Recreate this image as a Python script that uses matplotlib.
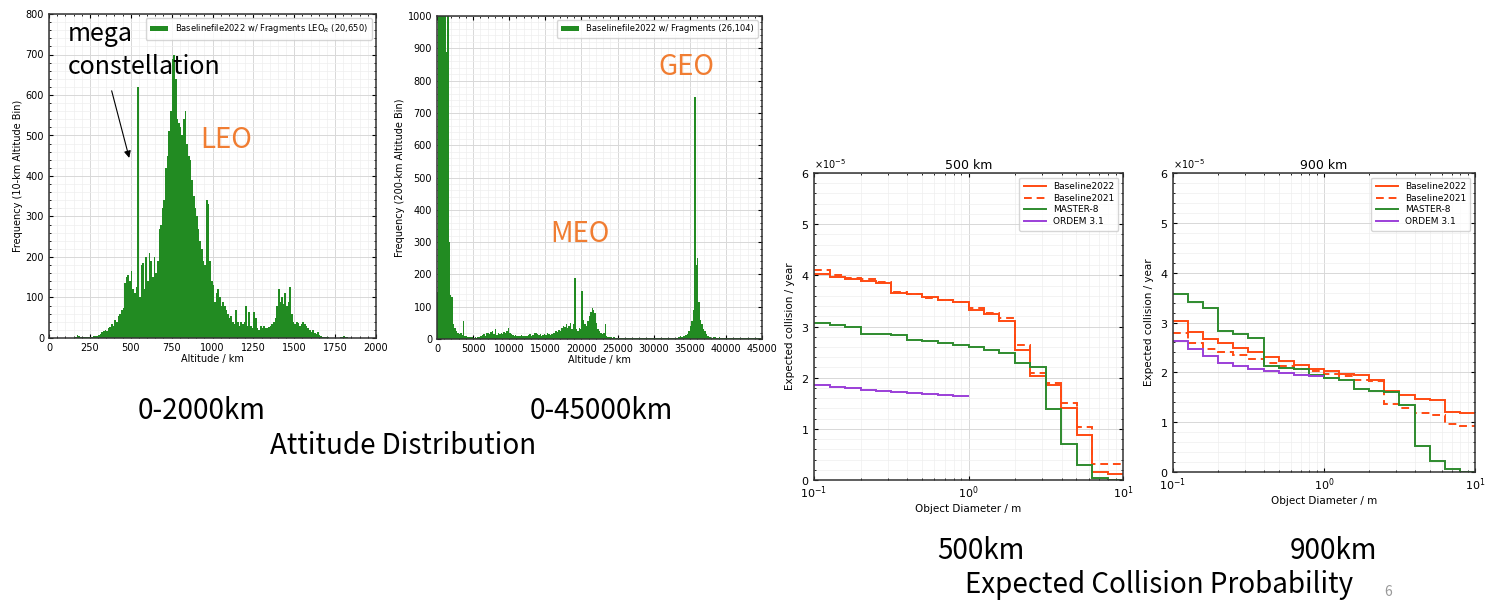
import numpy as np
import matplotlib.pyplot as plt
from matplotlib.ticker import MultipleLocator, AutoMinorLocator, ScalarFormatter

W, H = 1499, 601

# 10-km bins, 0 - 2000 km
leo_counts = [
    0, 0, 0, 0, 0, 0, 0, 0, 0, 0, 0, 0, 0, 0, 1, 2, 3, 8, 4, 2,
    1, 2, 2, 3, 2, 3, 3, 5, 6, 5, 8, 10, 14, 18, 20, 18, 25, 28, 35, 30,
    45, 40, 55, 60, 70, 75, 135, 150, 155, 140, 165, 120, 110, 125, 620, 100, 180, 185, 120, 200,
    140, 210, 190, 150, 200, 160, 190, 270, 280, 320, 340, 420, 450, 510, 560, 690, 700, 640, 540, 530,
    520, 500, 540, 560, 480, 450, 440, 390, 350, 320, 300, 270, 240, 220, 190, 180, 340, 330, 190, 140,
    130, 90, 110, 120, 100, 80, 90, 80, 70, 60, 50, 55, 40, 35, 70, 40, 30, 40, 35, 40,
    80, 30, 65, 30, 25, 65, 50, 25, 20, 30, 25, 30, 25, 25, 28, 30, 35, 40, 50, 80,
    120, 90, 100, 85, 110, 80, 90, 125, 60, 40, 35, 40, 38, 30, 35, 40, 35, 30, 25, 20,
    15, 20, 12, 10, 15, 8, 5, 3, 3, 2, 2, 1, 1, 1, 1, 1, 1, 1, 2, 3,
    4, 3, 2, 1, 1, 1, 0, 0, 0, 0, 0, 0, 0, 0, 0, 0, 0, 0, 0, 0,
]

# 200-km bins, 0 - 45000 km
all_counts = [
    145, 2200, 2800, 3400, 3000, 2500, 890, 1500, 300, 135,
    130, 45, 35, 25, 18, 15, 18, 12, 55, 10,
    8, 6, 5, 5, 6, 4, 5, 4, 6, 5,
    8, 12, 15, 10, 18, 20, 15, 22, 25, 15,
    30, 12, 18, 15, 20, 16, 22, 18, 25, 35,
    20, 15, 12, 10, 12, 10, 8, 10, 12, 8,
    10, 8, 10, 12, 15, 10, 12, 18, 20, 15,
    12, 14, 10, 12, 15, 12, 18, 16, 12, 15,
    20, 18, 25, 22, 28, 25, 35, 40, 38, 45,
    35, 40, 50, 30, 45, 190, 30, 25, 35, 30,
    150, 60, 45, 40, 55, 70, 85, 95, 90, 80,
    50, 30, 25, 20, 15, 20, 45, 10, 6, 5,
    5, 4, 5, 3, 3, 2, 2, 2, 2, 2,
    2, 2, 2, 2, 2, 2, 2, 2, 2, 2,
    2, 2, 2, 2, 2, 2, 2, 2, 2, 2,
    2, 2, 2, 2, 2, 2, 2, 2, 2, 2,
    2, 2, 3, 2, 3, 3, 4, 5, 8, 6,
    8, 10, 12, 15, 25, 40, 55, 90, 750, 230,
    250, 115, 60, 45, 30, 25, 15, 10, 6, 5,
    4, 5, 6, 4, 3, 5, 3, 2, 2, 3,
    2, 2, 2, 2, 2, 2, 2, 2, 2, 2,
    2, 2, 2, 2, 2, 2, 2, 2, 2, 2,
    2, 2, 2, 2, 2,
]

# object diameter bin edges / m
d_edges = [0.1, 0.126, 0.158, 0.2, 0.251, 0.316, 0.398, 0.501, 0.631, 0.794,
           1.0, 1.26, 1.58, 2.0, 2.51, 3.16, 3.98, 5.01, 6.31, 7.94, 10.0]
ordem_edges = [0.1, 0.126, 0.158, 0.2, 0.251, 0.316, 0.398, 0.501, 0.631, 0.794, 1.0]

SCALE = 1e-5
# 500 km
b22_500 = [4.03, 3.96, 3.92, 3.88, 3.85, 3.66, 3.63, 3.58, 3.51, 3.48,
           3.33, 3.24, 3.11, 2.54, 2.03, 1.85, 1.40, 0.87, 0.16, 0.12]
b21_500 = [4.11, 4.00, 3.94, 3.92, 3.87, 3.68, 3.63, 3.56, 3.51, 3.48,
           3.37, 3.27, 3.16, 2.63, 2.10, 1.90, 1.50, 1.03, 0.31, 0.31]
master_500 = [3.06, 3.03, 2.99, 2.86, 2.85, 2.83, 2.73, 2.72, 2.67, 2.63,
              2.60, 2.54, 2.49, 2.28, 2.21, 1.38, 0.70, 0.30, 0.03, 0.0]
ordem_500 = [1.85, 1.82, 1.79, 1.76, 1.74, 1.72, 1.71, 1.69, 1.67, 1.65]
# 900 km
b22_900 = [3.03, 2.80, 2.66, 2.59, 2.49, 2.41, 2.31, 2.22, 2.14, 2.07,
           2.03, 1.97, 1.94, 1.85, 1.63, 1.55, 1.47, 1.44, 1.20, 1.19]
b21_900 = [2.78, 2.58, 2.46, 2.41, 2.34, 2.27, 2.19, 2.13, 2.07, 2.03,
           1.96, 1.93, 1.84, 1.82, 1.36, 1.29, 1.19, 1.15, 0.96, 0.92]
master_900 = [3.58, 3.41, 3.29, 2.82, 2.76, 2.69, 2.12, 2.09, 2.07, 1.95,
              1.89, 1.84, 1.67, 1.63, 1.61, 1.34, 0.52, 0.22, 0.07, 0.01]
ordem_900 = [2.62, 2.46, 2.32, 2.19, 2.12, 2.06, 2.03, 1.99, 1.94, 1.92]

GREEN = '#228B22'
RED = '#FF4A12'
STEP_GREEN = '#2E8B2E'
PURPLE = '#9B3FD8'
ORANGE = '#F07D32'
SLIDE_FONT = ['Noto Sans CJK JP', 'DejaVu Sans']


def box(l, t, r, b):
    # pixel box -> figure fraction
    return [l / W, 1 - b / H, (r - l) / W, (b - t) / H]


def style(ax, fs):
    ax.tick_params(which='both', direction='in', top=True, right=True, labelsize=fs)
    ax.tick_params(which='major', length=3)
    ax.tick_params(which='minor', length=1.5)
    ax.grid(which='major', color='#d8d8d8', lw=0.7)
    ax.grid(which='minor', color='#eeeeee', lw=0.5)
    ax.set_axisbelow(True)
    for s in ax.spines.values():
        s.set_color('#333333')
        s.set_linewidth(1.1)


fig = plt.figure(figsize=(W / 100, H / 100), dpi=100)

# --- LEO histogram
ax1 = fig.add_axes(box(49, 14, 376, 338))
ax1.bar(np.arange(0, 2000, 10), leo_counts, width=10, align='edge', color=GREEN,
        linewidth=0, label='Baselinefile2022 w/ Fragments LEO$_R$ (20,650)')
ax1.set_xlim(0, 2000)
ax1.set_ylim(0, 800)
ax1.xaxis.set_major_locator(MultipleLocator(250))
ax1.yaxis.set_major_locator(MultipleLocator(100))
ax1.xaxis.set_minor_locator(AutoMinorLocator(5))
ax1.yaxis.set_minor_locator(AutoMinorLocator(5))
style(ax1, 7)
ax1.set_xlabel('Altitude / km', fontsize=7, labelpad=1)
ax1.set_ylabel('Frequency (10-km Altitude Bin)', fontsize=7, labelpad=2)
ax1.legend(loc='upper right', fontsize=6, handlelength=2.2, borderpad=0.5)
ax1.annotate('', xy=(495, 438), xytext=(379, 617),
             arrowprops=dict(arrowstyle='-|>', color='black', lw=0.8, mutation_scale=10))

# --- full altitude histogram
ax2 = fig.add_axes(box(437, 16, 762, 339))
ax2.bar(np.arange(0, 45000, 200), all_counts, width=200, align='edge', color=GREEN,
        linewidth=0, label='Baselinefile2022 w/ Fragments (26,104)')
ax2.set_xlim(0, 45000)
ax2.set_ylim(0, 1000)
ax2.xaxis.set_major_locator(MultipleLocator(5000))
ax2.yaxis.set_major_locator(MultipleLocator(100))
ax2.xaxis.set_minor_locator(AutoMinorLocator(5))
ax2.yaxis.set_minor_locator(AutoMinorLocator(5))
style(ax2, 7)
ax2.set_xlabel('Altitude / km', fontsize=7, labelpad=1)
ax2.set_ylabel('Frequency (200-km Altitude Bin)', fontsize=7, labelpad=2)
ax2.legend(loc='upper right', fontsize=6, handlelength=2.2, borderpad=0.5)


def collision_panel(rect, title, b22, b21, master, ordem):
    ax = fig.add_axes(box(*rect))
    ax.stairs(np.array(b22) * SCALE, d_edges, baseline=None, color=RED, lw=1.4,
              label='Baseline2022')
    ax.stairs(np.array(b21) * SCALE, d_edges, baseline=None, color=RED, lw=1.4,
              ls=(0, (4, 2.5)), label='Baseline2021')
    ax.stairs(np.array(master) * SCALE, d_edges, baseline=None, color=STEP_GREEN, lw=1.4,
              label='MASTER-8')
    ax.stairs(np.array(ordem) * SCALE, ordem_edges, baseline=None, color=PURPLE, lw=1.4,
              label='ORDEM 3.1')
    ax.set_xscale('log')
    ax.set_xlim(0.1, 10)
    ax.set_ylim(0, 6 * SCALE)
    ax.yaxis.set_major_locator(MultipleLocator(1 * SCALE))
    ax.yaxis.set_minor_locator(MultipleLocator(0.2 * SCALE))
    fmt = ScalarFormatter(useMathText=True)
    fmt.set_powerlimits((0, 0))
    ax.yaxis.set_major_formatter(fmt)
    ax.yaxis.get_offset_text().set_fontsize(7)
    style(ax, 8)
    ax.set_title(title, fontsize=9, pad=3)
    ax.set_xlabel('Object Diameter / m', fontsize=7.5, labelpad=2)
    ax.set_ylabel('Expected collision / year', fontsize=7.5, labelpad=4)
    ax.legend(loc='upper right', fontsize=6.5, handlelength=2.4, borderpad=0.5,
              labelspacing=0.3)
    return ax


collision_panel((814, 173, 1123, 480), '500 km', b22_500, b21_500, master_500, ordem_500)
collision_panel((1173, 173, 1475, 472), '900 km', b22_900, b21_900, master_900, ordem_900)


def slide_text(x, y, s, size=20, color='black', **kw):
    fig.text(x / W, 1 - y / H, s, fontsize=size, color=color, family=SLIDE_FONT,
             va='center', ha='left', **kw)


slide_text(68, 34, 'mega', size=18)
slide_text(68, 67, 'constellation', size=18)
slide_text(200, 140, 'LEO', size=20, color=ORANGE)
slide_text(658, 67, 'GEO', size=20, color=ORANGE)
slide_text(550, 234, 'MEO', size=20, color=ORANGE)
slide_text(138, 411, '0-2000km')
slide_text(530, 411, '0-45000km')
slide_text(270, 446, 'Attitude Distribution')
slide_text(937, 551, '500km')
slide_text(1290, 551, '900km')
slide_text(965, 585, 'Expected Collision Probability')
slide_text(1384, 592, '6', size=10, color='#999999')

fig.savefig('out.png', dpi=100)
